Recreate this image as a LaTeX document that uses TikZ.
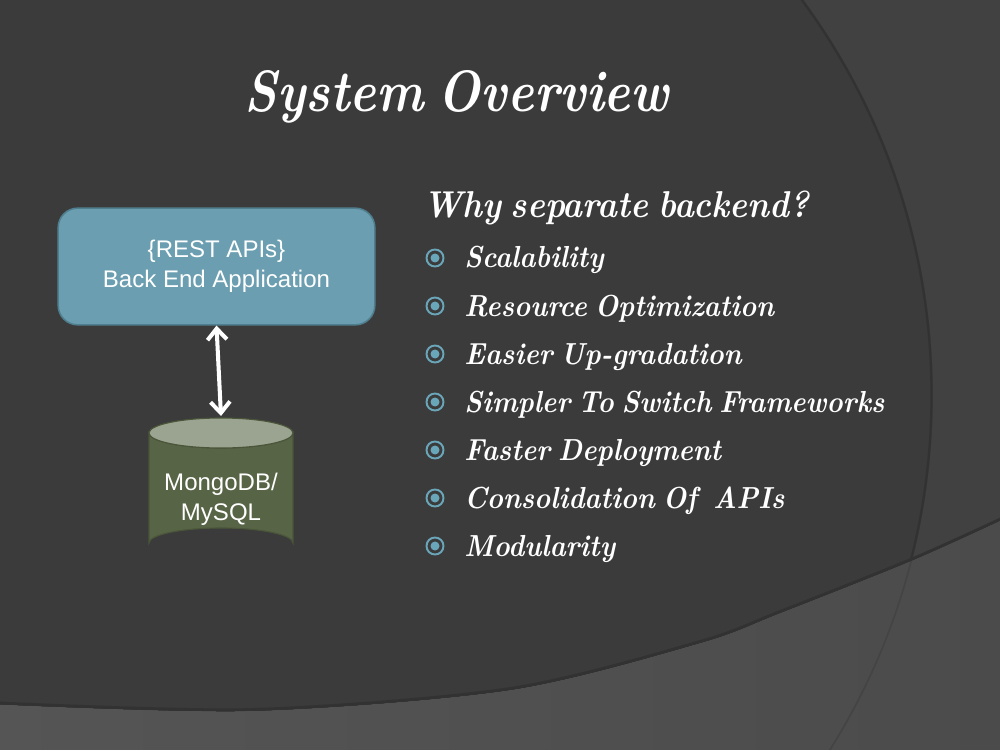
\documentclass[tikz,border=0pt]{standalone}
\usepackage{fontspec}
\setsansfont{Liberation Sans}
\newfontface\titlefont{lmroman10-bolditalic.otf}[FakeStretch=0.86, WordSpace=0.7]
\newfontface\itemfont{lmroman10-bolditalic.otf}[FakeStretch=0.9, WordSpace=0.7]
\usetikzlibrary{arrows.meta}
\definecolor{bgmain}{HTML}{3B3B3B}
\definecolor{bgright}{HTML}{414141}
\definecolor{bgbotL}{HTML}{555555}
\definecolor{bgbotR}{HTML}{4B4B4B}
\definecolor{arcshade}{HTML}{323232}
\definecolor{arcfaint}{HTML}{444444}
\definecolor{boxfill}{HTML}{6A9EB0}
\definecolor{boxedge}{HTML}{4F7F8F}
\definecolor{dbbody}{HTML}{586446}
\definecolor{dbtopc}{HTML}{9BA391}
\definecolor{dbedge}{HTML}{4A5539}
\definecolor{bulletteal}{HTML}{6AA6B9}
\begin{document}
\begin{tikzpicture}[x=0.72pt,y=-0.72pt,
  titletext/.style={text=white, font=\titlefont\fontsize{42}{50}\selectfont, inner sep=0pt},
  headtext/.style={text=white, font=\itemfont\fontsize{26.9}{32}\selectfont, inner sep=0pt},
  itemtext/.style={text=white, font=\itemfont\fontsize{21.9}{26}\selectfont, inner sep=0pt},
  appbox/.style={draw=boxedge, line width=1.1pt, fill=boxfill, rounded corners=14pt,
    minimum width=228pt, minimum height=84pt, text=white, align=center,
    font=\sffamily\fontsize{17.3}{21.6}\selectfont},
  dbtext/.style={text=white, align=center, inner sep=0pt,
    font=\sffamily\fontsize{17.3}{21.6}\selectfont},
  link/.style={white, line width=2.9pt,
    {Straight Barb[length=8pt,width=14pt]}-{Straight Barb[length=8pt,width=14pt]}},
  ringmark/.style={draw=bulletteal, line width=1.4pt},
  dotmark/.style={fill=bulletteal}
]
\useasboundingbox (0,0) rectangle (1000,750);
% background
\fill[bgmain] (0,0) rectangle (1000,750);
\begin{scope}
  \clip (0,0) rectangle (1000,750);
  \fill[bgright, even odd rule] (0,0) rectangle (1000,750) (265,395) circle[radius=668];
  \draw[arcshade, line width=1.6pt] (265,395) circle[radius=666.5];
  \fill[left color=bgbotL, right color=bgbotR]
    plot[smooth] coordinates {(-10,704) (250,711) (510,690) (700,643) (780,613) (913,560) (1010,516)}
    -- (1010,760) -- (-10,760) -- cycle;
  \begin{scope}
    \clip plot[smooth] coordinates {(-10,704) (250,711) (510,690) (700,643) (780,613) (913,560) (1010,516)}
      -- (1010,760) -- (-10,760) -- cycle;
    \draw[arcfaint, line width=1.2pt] (265,395) circle[radius=667];
  \end{scope}
  \draw[arcshade, line width=2pt]
    plot[smooth] coordinates {(-10,702.5) (250,709.5) (510,688.5) (700,641.5) (780,611.5) (913,558.5) (1010,514.5)};
\end{scope}

% title
\node[titletext, anchor=base] (title) at (457,112) {System Overview};

% diagram
\node[appbox] (app) at (216.5,266.5) {\{REST APIs\}\\Back End Application};
\fill[dbbody, draw=dbedge, line width=0.8pt] (149,433) -- (149,543) arc[start angle=180, end angle=360, x radius=72, y radius=15]
  -- (293,433) arc[start angle=0, end angle=180, x radius=72, y radius=15] -- cycle;
\fill[dbtopc, draw=dbedge, line width=0.8pt] (221,433) ellipse[x radius=72, y radius=15];
\node[dbtext] (db) at (221,499) {MongoDB/\\MySQL};
\coordinate (dbtop) at (221,416);
\draw[link] (app.south) -- (dbtop);

% list
\node[headtext, anchor=base west] (why) at (423,218) {Why separate backend?};
\foreach \txt [count=\i from 0] in {Scalability, Resource Optimization, Easier Up-gradation,
  Simpler To Switch Frameworks, Faster Deployment, Consolidation Of\ \ APIs, Modularity} {
  \pgfmathsetmacro\yb{268+48*\i}
  \draw[ringmark] (435,\yb-10) circle[radius=8.5];
  \fill[dotmark] (435,\yb-10) circle[radius=4.5];
  \node[itemtext, anchor=base west] (item\i) at (464,\yb) {\txt};
}
\end{tikzpicture}
\end{document}
